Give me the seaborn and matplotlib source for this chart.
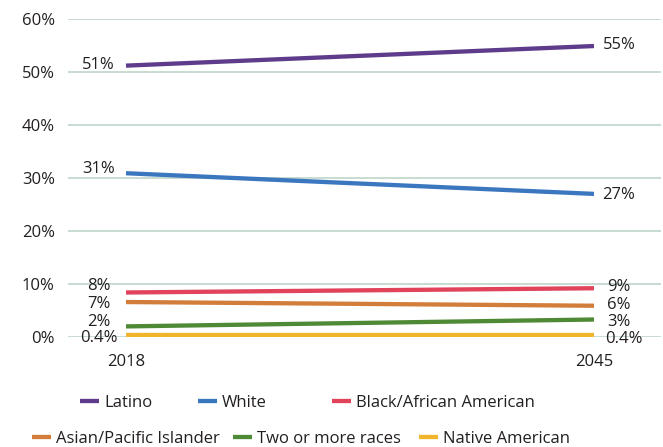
import numpy as np
import pandas as pd
import seaborn as sns
import matplotlib
matplotlib.use("Agg")
import matplotlib.pyplot as plt
from matplotlib.lines import Line2D
from matplotlib.ticker import FuncFormatter

# ---- data ----
years = [2018, 2045]
groups = ["Latino", "White", "Black/African American",
          "Asian/Pacific Islander", "Two or more races", "Native American"]
latino = [51.2, 54.9]
white = [30.9, 27.0]
black = [8.4, 9.2]
asian = [6.6, 5.9]
two_or_more = [2.0, 3.3]
native = [0.4, 0.4]
labels_2018 = ["51%", "31%", "8%", "7%", "2%", "0.4%"]
labels_2045 = ["55%", "27%", "9%", "6%", "3%", "0.4%"]
yticks = [0, 10, 20, 30, 40, 50, 60]

colors = ["#5f3b8b", "#3a77bf", "#e0435a", "#d37d3a", "#4e8a35", "#f1b52b"]

series = [latino, white, black, asian, two_or_more, native]
df = pd.DataFrame({
    "year": [y for s in series for y in years],
    "value": [v for s in series for v in s],
    "group": [g for g, s in zip(groups, series) for _ in years],
})

# ---- style ----
sns.set_theme(style="white")
plt.rcParams["font.family"] = ["Open Sans", "DejaVu Sans"]
text_color = "#231f20"

W, H = 663, 447
fig = plt.figure(figsize=(W / 100, H / 100), dpi=100)
ax_left, ax_right, ax_top, ax_bot = 68, 661, 19, 337
ax = fig.add_axes([ax_left / W, 1 - ax_bot / H, (ax_right - ax_left) / W, (ax_bot - ax_top) / H])

sns.lineplot(data=df, x="year", y="value", hue="group", hue_order=groups,
             palette=colors, linewidth=3.1, legend=False, ax=ax,
             solid_capstyle="butt")

# x-limits so 2018 sits at px 126 and 2045 at px 594
ppy = (594 - 126) / (2045 - 2018)
ax.set_xlim(2018 - (126 - ax_left) / ppy, 2045 + (ax_right - 594) / ppy)
ax.set_ylim(0, 60)
ax.set_yticks(yticks)
ax.yaxis.set_major_formatter(FuncFormatter(lambda v, p: f"{v:.0f}%"))
ax.set_xticks(years)
ax.set_xticklabels([str(y) for y in years])
ax.set_xlabel("")
ax.set_ylabel("")
for s in ax.spines.values():
    s.set_visible(False)
ax.grid(axis="y", color="#b9d2c4", linewidth=1.1)
ax.grid(axis="x", visible=False)
ax.set_axisbelow(True)
ax.tick_params(axis="y", length=0, pad=9.5, labelsize=12, labelcolor=text_color)
ax.tick_params(axis="x", length=0, pad=12, labelsize=12, labelcolor=text_color)

# ---- data labels ----
left_dx = [-11, -11, -15, -15, -15, -8]
left_dy = [-3.3, 0, 2, -6, 0, -7.3]
right_dx = [9, 8, 13, 13, 13, 11]
right_dy = [-3.3, -5.3, -2.7, -3, -6.7, -8.3]
for i, s in enumerate(series):
    ax.annotate(labels_2018[i], (years[0], s[0]), xytext=(left_dx[i], left_dy[i]),
                textcoords="offset pixels", ha="right", va="baseline",
                fontsize=12, color=text_color, annotation_clip=False)
    ax.annotate(labels_2045[i], (years[1], s[1]), xytext=(right_dx[i], right_dy[i]),
                textcoords="offset pixels", ha="left", va="baseline",
                fontsize=12, color=text_color, annotation_clip=False)

# ---- legend (one entry each, flowing layout as in the reference) ----
leg_pos = [(80, 403), (198, 403), (332, 403), (32, 439), (233, 439), (419, 439)]
for i, g in enumerate(groups):
    h = Line2D([], [], color=colors[i], linewidth=3.1, solid_capstyle="butt")
    x, y = leg_pos[i]
    leg = fig.legend([h], [g], loc="center left", bbox_to_anchor=(x / W, 1 - y / H),
                     frameon=False, fontsize=12, handlelength=1.15, handletextpad=0.3,
                     borderpad=0, borderaxespad=0)
    for t in leg.get_texts():
        t.set_color(text_color)

fig.savefig("out.png", dpi=100)
